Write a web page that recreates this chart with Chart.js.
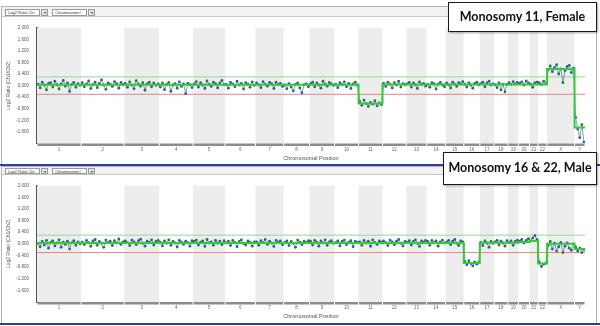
<!DOCTYPE html>
<html>
<head>
<meta charset="utf-8">
<script src="https://cdn.jsdelivr.net/npm/chart.js@4"></script>
<style>
  html, body { margin:0; padding:0; background:#fff; }
  #wrap { position:relative; width:600px; height:326px; overflow:hidden; background:#fff; font-family:"Liberation Sans", Arial, sans-serif; }
  .frame { position:absolute; left:1px; width:596px; border:1px solid #b4b4b4; border-bottom:none; box-sizing:border-box; }
  .toolbar { position:absolute; left:2px; width:594px; background:#f2f2f2; border-bottom:1px solid #c6c6c6; box-sizing:border-box; }
  .dd { position:absolute; height:7px; border:1px solid #9a9a9a; background:#fff; font-size:4px; line-height:6px; color:#333; padding-left:2px; box-sizing:border-box; white-space:nowrap; overflow:hidden; }
  .btn { position:absolute; height:7px; width:7px; border:1px solid #9a9a9a; background:#e4e4e4; font-size:4px; line-height:6px; text-align:center; color:#333; box-sizing:border-box; }
  .blue { position:absolute; left:0; width:600px; height:2px; background:#2f3f9c; }
  canvas { position:absolute; left:0; }
  .label { position:absolute; background:#fff; border:1.5px solid #1a1a1a; box-shadow:1px 1px 2px rgba(0,0,0,0.35); font-family:Lato, "Open Sans", sans-serif; font-weight:bold; font-size:12.5px; color:#111; text-align:center; box-sizing:border-box; z-index:5; }
</style>
</head>
<body>
<div id="wrap">
  <div class="frame" style="top:6px;height:158px;"></div>
  <div class="toolbar" style="top:7px;height:10px;"></div>
  <div class="dd" style="left:5px;top:9px;width:35px;">Log2 Ratio Chr</div>
  <div class="btn" style="left:41px;top:9px;">▾</div>
  <div class="dd" style="left:52px;top:9px;width:35px;">Chromosome#</div>
  <div class="btn" style="left:88px;top:9px;">▾</div>
  <canvas id="c1" width="600" height="148" style="top:17px;"></canvas>
  <div class="blue" style="top:164px;"></div>

  <div class="frame" style="top:166px;height:158px;"></div>
  <div class="toolbar" style="top:167px;height:8px;"></div>
  <div class="dd" style="left:5px;top:168px;width:35px;height:6px;line-height:5px;">Log2 Ratio Chr</div>
  <div class="btn" style="left:41px;top:168px;height:6px;line-height:5px;">▾</div>
  <div class="dd" style="left:52px;top:168px;width:35px;height:6px;line-height:5px;">Chromosome#</div>
  <div class="btn" style="left:88px;top:168px;height:6px;line-height:5px;">▾</div>
  <canvas id="c2" width="600" height="148" style="top:175px;"></canvas>
  <div class="blue" style="top:323px;"></div>

  <div class="label" style="left:448px;top:2px;width:149px;height:30px;line-height:27px;">Monosomy 11, Female</div>
  <div class="label" style="left:443px;top:152px;width:154px;height:33px;line-height:30px;">Monosomy 16 &amp; 22, Male</div>
</div>
<script>
// ---------- DATA ----------
const CHR_NAMES = ['1','2','3','4','5','6','7','8','9','10','11','12','13','14','15','16','17','18','19','20','21','22','X','Y'];
const CHR_LENGTHS_MB = [249,243,198,191,181,171,159,146,141,136,135,134,115,107,103,90,81,78,59,63,48,51,155,59];
const Y_TICK_VALUES_MIN = -2.0;
const Y_TICK_VALUES_MAX = 2.0;
const THRESHOLD_UPPER = 0.3;
const THRESHOLD_LOWER = -0.3;

const FEMALE_SEGMENTS = [0.03,0.03,0.03,0.03,0.03,0.03,0.03,0.03,0.03,0.03,-0.62,0.04,0.04,0.04,0.04,0.04,0.04,0.04,0.04,0.04,0.04,0.04,0.57,-1.45];
const MALE_SEGMENTS = [0.03,0.03,0.03,0.03,0.03,0.03,0.03,0.03,0.03,0.03,0.03,0.03,0.03,0.03,0.03,-0.66,0.04,0.04,0.04,0.06,0.1,-0.68,0.0,-0.18];

const FEMALE_PROBES = [
  [0.05,-0.08,0.12,0.02,-0.15,0.08,0.1,-0.05,0.15,0.03,-0.12,0.06,0.18,-0.02,0.09,-0.2,0.04,0.11,-0.06,0.07,0.01],
  [0.1,-0.04,0.06,0.16,-0.1,0.03,0.12,-0.07,0.08,0.2,0.02,-0.13,0.09,0.05,-0.03,0.14,0.07,-0.09,0.11,0.04],
  [0.08,-0.06,0.13,0.02,-0.11,0.17,0.05,-0.02,0.1,-0.16,0.07,0.12,-0.04,0.09,0.01,0.06],
  [-0.05,0.09,-0.14,0.04,0.11,-0.2,0.02,0.07,-0.09,0.13,-0.03,0.06,-0.28,0.08,0.03,-0.07],
  [0.06,0.14,-0.05,0.1,0.02,-0.1,0.16,0.04,-0.03,0.12,0.07,-0.08,0.09,0.18,0.03],
  [0.04,-0.09,0.11,0.06,-0.04,0.15,0.02,0.08,-0.12,0.1,0.05,-0.06,0.13,0.01],
  [0.09,0.03,-0.07,0.14,0.05,-0.02,0.11,0.07,-0.1,0.12,0.04,0.08,-0.03],
  [0.02,-0.11,0.07,-0.05,-0.18,0.04,0.09,-0.08,-0.25,0.03,0.06,-0.04],
  [0.07,0.12,-0.04,0.09,0.02,-0.09,0.15,0.05,-0.02,0.11,0.06,0.01],
  [0.05,-0.07,0.1,0.03,0.13,-0.04,0.08,-0.1,0.06,0.12,0.02],
  [-0.55,-0.68,-0.5,-0.62,-0.72,-0.58,-0.64,-0.52,-0.7,-0.6,-0.66],
  [0.08,-0.03,0.12,0.05,-0.08,0.1,0.02,0.15,-0.05,0.07,0.03],
  [0.06,0.11,-0.05,0.09,0.03,-0.1,0.13,0.04,0.08,-0.02],
  [0.04,-0.06,0.1,0.07,-0.12,0.05,0.11,0.02,-0.04],
  [0.09,0.03,-0.08,0.12,0.05,-0.03,0.1,0.06,0.14],
  [0.05,-0.05,0.1,0.02,-0.09,0.08,0.12,0.03],
  [0.07,0.12,-0.04,0.09,0.15,0.02,0.06],
  [0.03,-0.07,0.09,-0.15,0.05,-0.22,0.04],
  [0.1,0.04,0.14,0.06,0.11],
  [0.08,0.13,0.02,0.16,0.09],
  [0.05,-0.06,0.09,0.12],
  [0.1,0.04,0.15,0.07],
  [0.55,0.68,0.48,0.62,0.72,0.4,0.58,0.1,0.52,0.66,0.7,0.45,0.6],
  [-1.1,-1.5,-1.8,-1.35,-1.95]
];

const MALE_PROBES = [
  [0.02,-0.1,0.08,-0.04,0.12,-0.15,0.05,0.1,-0.07,0.03,0.14,-0.12,0.06,-0.02,0.09,-0.18,0.04,0.11,-0.05,0.07,0.0],
  [0.06,-0.03,0.12,0.04,-0.09,0.1,0.15,-0.05,0.08,0.02,-0.12,0.13,0.05,0.09,-0.06,0.11,0.03,0.17,-0.02,0.07],
  [0.1,0.04,-0.06,0.13,0.07,-0.03,0.11,0.16,0.02,-0.08,0.09,0.05,0.14,-0.04,0.08,0.12],
  [0.05,-0.07,0.1,0.02,0.14,-0.05,0.08,0.03,-0.11,0.12,0.06,-0.02,0.09,0.04,-0.08,0.11],
  [0.08,0.13,-0.04,0.06,0.1,-0.09,0.15,0.03,0.07,-0.05,0.12,0.02,0.09,-0.03,0.11],
  [0.03,0.09,-0.06,0.12,0.05,-0.1,0.08,0.14,0.01,-0.04,0.1,0.06,-0.08,0.07],
  [0.07,-0.05,0.11,0.04,0.15,-0.02,0.09,0.03,-0.09,0.12,0.06,0.1,-0.03],
  [0.05,0.1,-0.06,0.08,0.02,-0.12,0.13,0.06,-0.03,0.09,0.04,0.11],
  [0.09,-0.04,0.12,0.06,-0.08,0.1,0.03,0.14,-0.05,0.07,0.11,0.02],
  [0.04,0.1,-0.07,0.08,0.13,-0.03,0.06,0.11,-0.1,0.09,0.05],
  [0.07,-0.05,0.12,0.03,0.09,-0.08,0.14,0.05,-0.02,0.1,0.06],
  [0.1,0.04,-0.06,0.13,0.07,-0.03,0.09,0.15,0.02,-0.07,0.08],
  [0.05,0.11,-0.04,0.08,0.14,0.02,-0.09,0.1,0.06,0.12],
  [0.08,-0.05,0.12,0.04,0.1,-0.08,0.07,0.13,0.03],
  [0.06,0.12,-0.03,0.09,0.15,0.02,-0.06,0.1,0.07],
  [-0.6,-0.72,-0.58,-0.68,-0.76,-0.62,-0.7,-0.64],
  [0.05,-0.06,0.1,0.03,-0.12,0.08,0.02],
  [0.07,0.12,-0.04,0.09,0.03,-0.08,0.11],
  [0.04,0.1,-0.05,0.08,0.13],
  [0.09,0.15,0.03,0.12,0.18],
  [0.1,0.2,0.28,0.15],
  [-0.62,-0.78,-0.7,-0.66],
  [-0.05,0.08,-0.18,0.02,-0.25,-0.1,0.05,-0.3,-0.08,0.03,-0.15,-0.22,0.0],
  [-0.1,-0.25,-0.15,-0.3,-0.2]
];

// ---------- derived layout from data ----------
const chrStarts = [];
let acc = 0;
CHR_LENGTHS_MB.forEach(l => { chrStarts.push(acc); acc += l; });
const GENOME_TOTAL = acc;
const chrCenters = CHR_LENGTHS_MB.map((l, i) => chrStarts[i] + l / 2);

function probePoints(probes) {
  const pts = [];
  probes.forEach((vals, c) => {
    const n = vals.length;
    vals.forEach((v, i) => pts.push({ x: chrStarts[c] + (i + 0.5) * CHR_LENGTHS_MB[c] / n, y: v }));
  });
  return pts;
}
function segmentPoints(segs) {
  const pts = [];
  segs.forEach((v, c) => {
    pts.push({ x: chrStarts[c], y: v });
    pts.push({ x: chrStarts[c] + CHR_LENGTHS_MB[c], y: v });
  });
  return pts;
}

const bandsPlugin = {
  id: 'bands',
  beforeDatasetsDraw(chart) {
    const { ctx, chartArea: a, scales: { x } } = chart;
    ctx.save();
    ctx.fillStyle = '#ededed';
    CHR_LENGTHS_MB.forEach((l, i) => {
      if (i % 2 === 0) {
        const x0 = x.getPixelForValue(chrStarts[i]);
        const x1 = x.getPixelForValue(chrStarts[i] + l);
        ctx.fillRect(x0, a.top, x1 - x0, a.bottom - a.top);
      }
    });
    ctx.restore();
  },
  afterDraw(chart) {
    const { ctx, chartArea: a, scales: { x } } = chart;
    ctx.save();
    ctx.fillStyle = '#8c8c8c';
    CHR_LENGTHS_MB.forEach((l, i) => {
      const x0 = x.getPixelForValue(chrStarts[i]);
      const x1 = x.getPixelForValue(chrStarts[i] + l);
      ctx.fillRect(x0 + 0.5, a.bottom, x1 - x0 - 1, 2.5);
    });
    ctx.restore();
  }
};

function makeChart(id, probes, segs, pad) {
  const pts = probePoints(probes);
  const colors = pts.map((p, i) => (i % 3 === 1 ? '#2c7447' : '#2d5d9c'));
  return new Chart(document.getElementById(id), {
    type: 'scatter',
    data: {
      datasets: [
        { label: 'segments', type: 'line', data: segmentPoints(segs), borderColor: '#33cc33', borderWidth: 2, pointRadius: 0, order: 0 },
        { label: 'probes', data: pts, showLine: true, borderColor: 'rgba(40,95,130,0.75)', borderWidth: 0.8, pointRadius: 1.4, pointBorderWidth: 0, pointBackgroundColor: colors, order: 1 },
        { label: 'upper', type: 'line', data: [{ x: 0, y: THRESHOLD_UPPER }, { x: GENOME_TOTAL, y: THRESHOLD_UPPER }], borderColor: '#92da92', borderWidth: 1, pointRadius: 0, order: 2 },
        { label: 'lower', type: 'line', data: [{ x: 0, y: THRESHOLD_LOWER }, { x: GENOME_TOTAL, y: THRESHOLD_LOWER }], borderColor: '#e48585', borderWidth: 1, pointRadius: 0, order: 3 }
      ]
    },
    options: {
      responsive: false,
      animation: false,
      devicePixelRatio: 1,
      layout: { padding: { top: pad.top, left: 4, right: 15, bottom: 0 } },
      plugins: { legend: { display: false }, tooltip: { enabled: false } },
      scales: {
        x: {
          type: 'linear', min: 0, max: GENOME_TOTAL,
          afterBuildTicks: s => { s.ticks = chrCenters.map(v => ({ value: v })); },
          afterFit: s => { s.height = pad.xh; },
          grid: { display: false, drawTicks: false },
          border: { display: false },
          ticks: { autoSkip: false, maxRotation: 0, minRotation: 0, padding: pad.xtp, color: '#666', font: { size: 4.5, family: 'Liberation Sans' },
                   callback: (v, i) => CHR_NAMES[i] },
          title: { display: true, text: 'Chromosomal Position', color: '#555', font: { size: 5.5, family: 'Liberation Sans' }, padding: { top: 0, bottom: pad.xtb } }
        },
        y: {
          min: Y_TICK_VALUES_MIN, max: Y_TICK_VALUES_MAX,
          afterFit: s => { s.width = 33; },
          grid: { display: false, drawTicks: false },
          border: { display: true, color: '#555', width: 2 },
          ticks: { stepSize: 0.4, padding: 8, color: '#555', font: { size: 4.5, family: 'Liberation Sans' },
                   callback: v => Math.abs(v - Y_TICK_VALUES_MIN) < 1e-6 ? '' : v.toFixed(3) },
          title: { display: true, text: 'Log2 Ratio (Ch1/Ch2)', color: '#555', font: { size: 5, family: 'Liberation Sans' }, padding: { top: 2, bottom: 0 } }
        }
      }
    },
    plugins: [bandsPlugin]
  });
}

makeChart('c1', FEMALE_PROBES, FEMALE_SEGMENTS, { top: 7, xh: 21.5, xtp: 4, xtb: 3.5 });
makeChart('c2', MALE_PROBES, MALE_SEGMENTS, { top: 6, xh: 21, xtp: 3.5, xtb: 3.3 });
</script>
</body>
</html>
